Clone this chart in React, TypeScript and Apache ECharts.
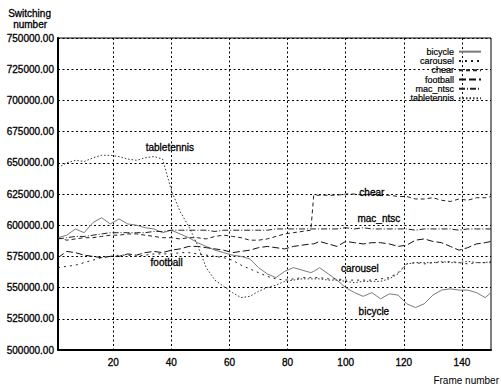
import React, { useEffect, useRef } from 'react';
import * as echarts from 'echarts';

// Frame numbers sampled along the x axis
const frames = [
  1, 4, 7, 10, 13, 16, 19, 22, 25, 28,
  31, 34, 37, 40, 43, 46, 49, 52, 55, 58,
  61, 64, 67, 70, 73, 76, 79, 82, 85, 88,
  89, 91, 94, 97, 100, 103, 106, 109, 112, 115,
  118, 121, 124, 127, 130, 133, 136, 139, 142, 145,
  148, 150,
];

// Switching number, in thousands
const bicycle = [
  590, 592, 597, 594, 602, 606, 601, 605, 601, 600,
  598, 597, 594, 596, 593, 590, 586, 583, 580, 578,
  576, 575, 573, 566, 561, 558, 563, 566, 564, 562,
  563, 566, 561, 556, 550, 546, 543, 546, 541, 545,
  544, 537, 534, 537, 544, 548, 549, 548, 548, 546,
  542, 546,
];
const carousel = [
  566, 567, 568, 570, 572, 574, 575, 576, 576, 575,
  576, 577, 577, 577, 578, 578, 577, 576, 575, 574,
  572, 568, 565, 562, 559, 557, 556, 557, 558, 558,
  558, 558, 557, 557, 556, 556, 556, 556, 557, 558,
  562, 569, 570, 569, 570, 570, 571, 570, 569, 570,
  570, 570,
];
const chear = [
  590, 588, 589, 590, 590, 591, 592, 592, 593, 593,
  592, 591, 590, 590, 589, 590, 590, 589, 591, 592,
  591, 590, 588, 588, 589, 591, 593, 594, 595, 596,
  624, 624, 624, 624, 625, 625, 624, 625, 624, 624,
  623, 623, 621, 621, 622, 620, 619, 621, 620, 622,
  622, 623,
];
const football = [
  574, 579, 578, 576, 575, 574, 575, 575, 577, 576,
  578, 579, 578, 580, 581, 583, 583, 582, 581, 580,
  578, 579, 580, 582, 583, 582, 581, 583, 584, 585,
  585, 587, 585, 583, 587, 586, 585, 586, 586, 585,
  583, 584, 588, 589, 587, 586, 583, 580, 582, 585,
  586, 587,
];
const macNtsc = [
  589, 590, 591, 591, 592, 593, 594, 594, 594, 594,
  594, 595, 595, 596, 596, 596, 596, 596, 595, 596,
  596, 596, 596, 596, 596, 597, 597, 597, 597, 597,
  597, 597, 597, 597, 598, 597, 598, 597, 597, 597,
  597, 597, 596, 597, 597, 597, 597, 596, 597, 597,
  597, 597,
];
const tabletennis = [
  646, 650, 652, 651, 654, 656, 656, 655, 653, 652,
  654, 655, 653, 628, 611, 599, 584, 566, 556, 551,
  546, 542, 543, 547, 550, 552, 555, 556, 557, 557,
  557, 557, 556, 556, 555, 554, 555, 555, 555, 557,
  561, 569, 570, 570, 570, 571, 570, 570, 571, 570,
  570, 571,
];

const seriesNames = ['bicycle', 'carousel', 'chear', 'football', 'mac_ntsc', 'tabletennis'];
const xTicks = [20, 40, 60, 80, 100, 120, 140];
// in-plot label anchors [frame, switching number]
const labelAnchors: Record<string, [number, number]> = {
  bicycle: [109.7, 531200],
  carousel: [104.9, 565700],
  chear: [109, 626000],
  football: [38.4, 570500],
  mac_ntsc: [111.4, 605000],
  tabletennis: [39.5, 662000],
};

export default function App() {
  const ref = useRef<HTMLDivElement>(null);
  useEffect(() => {
    const chart = echarts.init(ref.current!, null, { renderer: 'svg' });
    const font = '"Liberation Sans", Arial, sans-serif';
    const styles: Record<string, any> = {
      bicycle: { color: '#7a7a7a', type: 'solid', width: 1 },
      carousel: { color: '#222', type: [2, 4], width: 1 },
      chear: { color: '#222', type: [4, 3], width: 1 },
      football: { color: '#111', type: [7, 3], width: 1 },
      mac_ntsc: { color: '#222', type: [6, 2, 1, 2], width: 1 },
      tabletennis: { color: '#333', type: [1.5, 2], width: 1 },
    };
    const values: Record<string, number[]> = {
      bicycle, carousel, chear, football, mac_ntsc: macNtsc, tabletennis,
    };
    const series = seriesNames.map((name) => ({
      name,
      type: 'line',
      symbol: 'none',
      data: frames.map((f, i) => [f, values[name][i] * 1000]),
      lineStyle: styles[name],
      itemStyle: { color: styles[name].color },
      markPoint: {
        symbol: 'circle',
        symbolSize: 1,
        itemStyle: { color: 'rgba(0,0,0,0)' },
        data: [{ coord: labelAnchors[name], value: name }],
        label: {
          show: true,
          position: 'inside',
          formatter: name,
          fontSize: 10,
          color: '#000',
          fontFamily: font,
          textBorderColor: '#000',
          textBorderWidth: 0.3,
        },
      },
    }));
    chart.setOption({
      animation: false,
      backgroundColor: '#fff',
      grid: {
        left: 58, right: 10, top: 38, bottom: 36,
        show: true, borderColor: '#000', borderWidth: 1,
      },
      legend: {
        data: seriesNames,
        orient: 'vertical',
        right: 19,
        top: 47,
        align: 'right',
        padding: 0,
        itemWidth: 22,
        itemHeight: 8,
        itemGap: 0,
        itemStyle: { opacity: 0 },
        lineStyle: { opacity: 1 },
        textStyle: { fontSize: 9, lineHeight: 9.3, fontFamily: font, color: '#000', textBorderColor: '#000', textBorderWidth: 0.2 },
      },
      xAxis: {
        type: 'value',
        min: 1,
        max: 150,
        axisLine: { show: true, lineStyle: { color: '#000', width: 2 } },
        axisTick: { show: false, customValues: xTicks },
        axisLabel: {
          customValues: xTicks,
          fontSize: 10, color: '#000', fontFamily: font, margin: 7,
          textBorderColor: '#000', textBorderWidth: 0.3,
        },
        splitLine: { show: true, lineStyle: { color: '#000', type: [2, 2.5], width: 1 } },
      },
      yAxis: {
        type: 'value',
        min: 500000,
        max: 750000,
        interval: 25000,
        axisLine: { show: true, lineStyle: { color: '#000', width: 2 } },
        axisTick: { show: false },
        axisLabel: {
          formatter: (v: number) => v.toFixed(2),
          fontSize: 10, color: '#000', fontFamily: font, margin: 4,
          textBorderColor: '#000', textBorderWidth: 0.3,
        },
        splitLine: { show: true, lineStyle: { color: '#000', type: [2, 2.5], width: 1 } },
      },
      graphic: [
        { type: 'text', left: 8, top: 8, style: { text: 'Switching', fontSize: 10, fontFamily: font, fill: '#000', stroke: '#000', lineWidth: 0.3 } },
        { type: 'text', left: 13, top: 19, style: { text: 'number', fontSize: 10, fontFamily: font, fill: '#000', stroke: '#000', lineWidth: 0.3 } },
        { type: 'text', right: 2, top: 375, style: { text: 'Frame number', fontSize: 10, fontFamily: font, fill: '#000' } },
      ],
      series,
    });
    return () => chart.dispose();
  }, []);
  return <div ref={ref} style={{ position: 'fixed', left: 0, top: 0, width: 501, height: 386 }} />;
}
